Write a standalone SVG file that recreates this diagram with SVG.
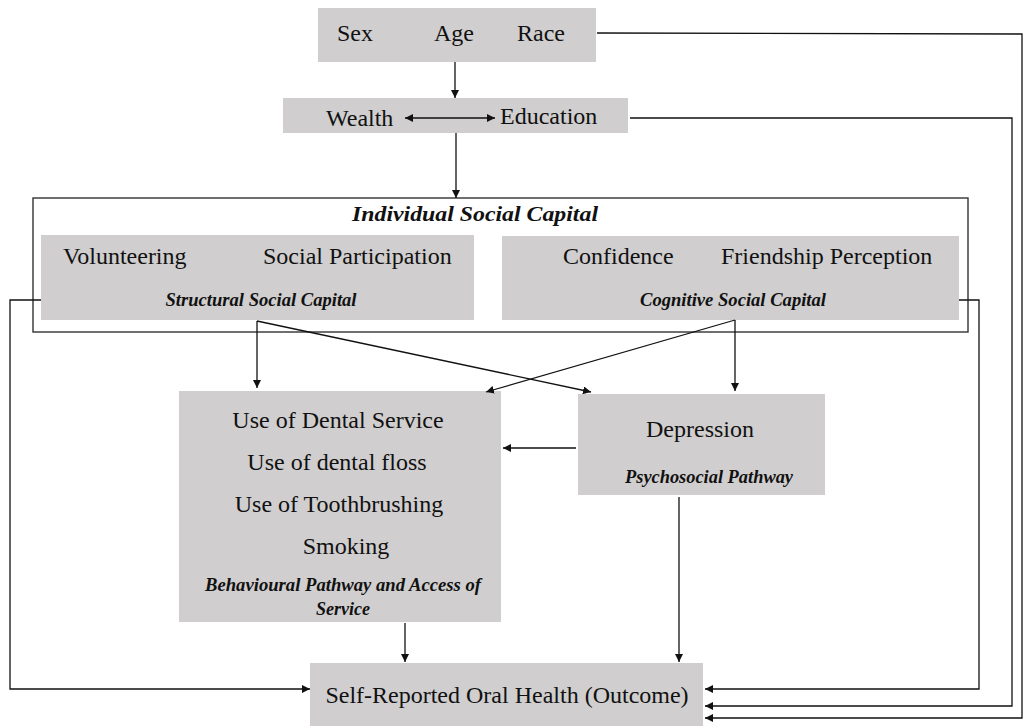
<svg xmlns="http://www.w3.org/2000/svg" width="1024" height="726" viewBox="0 0 1024 726">
<style>
.box{fill:#d0cecf;stroke:none}
.frame{fill:none;stroke:#333;stroke-width:1.4}
.t{font-family:'Liberation Serif','Times New Roman','DejaVu Serif',serif;font-size:24px;fill:#111}
.bi{font-family:'Liberation Serif','Times New Roman','DejaVu Serif',serif;font-size:18px;font-weight:bold;font-style:italic;fill:#111}
.c{fill:none;stroke:#111;stroke-width:1.3}
</style>
<defs>
<marker id="ah" viewBox="0 0 10 10" refX="10" refY="5" markerWidth="8" markerHeight="8" markerUnits="userSpaceOnUse" orient="auto-start-reverse">
<path d="M0,0 L10,5 L0,10 z" fill="#111"/>
</marker>
</defs>
<rect width="1024" height="726" fill="#fff"/>

<g id="demographics">
<rect class="box" x="318" y="8" width="278" height="54"/>
<text class="t" x="337" y="41">Sex</text>
<text class="t" x="434" y="41">Age</text>
<text class="t" x="517" y="41">Race</text>
</g>

<g id="ses">
<rect class="box" x="283" y="98" width="345" height="35"/>
<text class="t" x="326" y="126">Wealth</text>
<text class="t" x="500" y="124">Education</text>
</g>

<g id="individual-social-capital">
<rect class="frame" x="33" y="198" width="935" height="134"/>
<text class="bi" x="475" y="221" text-anchor="middle" style="font-size:22px" textLength="246" lengthAdjust="spacingAndGlyphs">Individual Social Capital</text>
</g>

<g id="structural">
<rect class="box" x="41" y="235" width="433" height="85"/>
<text class="t" x="63" y="264">Volunteering</text>
<text class="t" x="263" y="264">Social Participation</text>
<text class="bi" x="261" y="306" text-anchor="middle" textLength="191" lengthAdjust="spacingAndGlyphs">Structural Social Capital</text>
</g>

<g id="cognitive">
<rect class="box" x="502" y="236" width="457" height="84"/>
<text class="t" x="563" y="264">Confidence</text>
<text class="t" x="721" y="264">Friendship Perception</text>
<text class="bi" x="733" y="306" text-anchor="middle" textLength="186" lengthAdjust="spacingAndGlyphs">Cognitive Social Capital</text>
</g>

<g id="behavioural">
<rect class="box" x="179" y="391" width="322" height="231"/>
<text class="t" x="338" y="428" text-anchor="middle">Use of Dental Service</text>
<text class="t" x="337" y="470" text-anchor="middle">Use of dental floss</text>
<text class="t" x="339" y="512" text-anchor="middle">Use of Toothbrushing</text>
<text class="t" x="346" y="554" text-anchor="middle">Smoking</text>
<text class="bi" x="343" y="591" text-anchor="middle" textLength="276" lengthAdjust="spacingAndGlyphs">Behavioural Pathway and Access of</text>
<text class="bi" x="343" y="615" text-anchor="middle">Service</text>
</g>

<g id="depression">
<rect class="box" x="578" y="394" width="247" height="101"/>
<text class="t" x="700" y="437" text-anchor="middle">Depression</text>
<text class="bi" x="709" y="483" text-anchor="middle" textLength="168" lengthAdjust="spacingAndGlyphs">Psychosocial Pathway</text>
</g>

<g id="outcome">
<rect class="box" x="310" y="663" width="393" height="70"/>
<text class="t" x="507" y="703" text-anchor="middle">Self-Reported Oral Health (Outcome)</text>
</g>

<g id="connectors">
<line class="c" x1="455" y1="62" x2="455" y2="98" marker-end="url(#ah)"/>
<line class="c" x1="405" y1="118" x2="495" y2="118" marker-start="url(#ah)" marker-end="url(#ah)"/>
<line class="c" x1="456" y1="133" x2="456" y2="198" marker-end="url(#ah)"/>
<polyline class="c" points="597,33 1022,34 1022,718 705,718" marker-end="url(#ah)"/>
<polyline class="c" points="630,118 1012,118 1012,706 705,706" marker-end="url(#ah)"/>
<polyline class="c" points="959,300 979,300 979,689 705,689" marker-end="url(#ah)"/>
<polyline class="c" points="41,300 10,300 10,689 310,689" marker-end="url(#ah)"/>
<line class="c" x1="257" y1="321" x2="257" y2="388" marker-end="url(#ah)"/>
<line class="c" x1="257" y1="321" x2="591" y2="392" marker-end="url(#ah)"/>
<line class="c" x1="735" y1="320" x2="735" y2="391" marker-end="url(#ah)"/>
<line class="c" x1="735" y1="320" x2="486" y2="392" marker-end="url(#ah)"/>
<line class="c" x1="576" y1="448" x2="503" y2="448" marker-end="url(#ah)"/>
<line class="c" x1="405" y1="623" x2="405" y2="662" marker-end="url(#ah)"/>
<line class="c" x1="679" y1="497" x2="679" y2="662" marker-end="url(#ah)"/>
</g>
</svg>
